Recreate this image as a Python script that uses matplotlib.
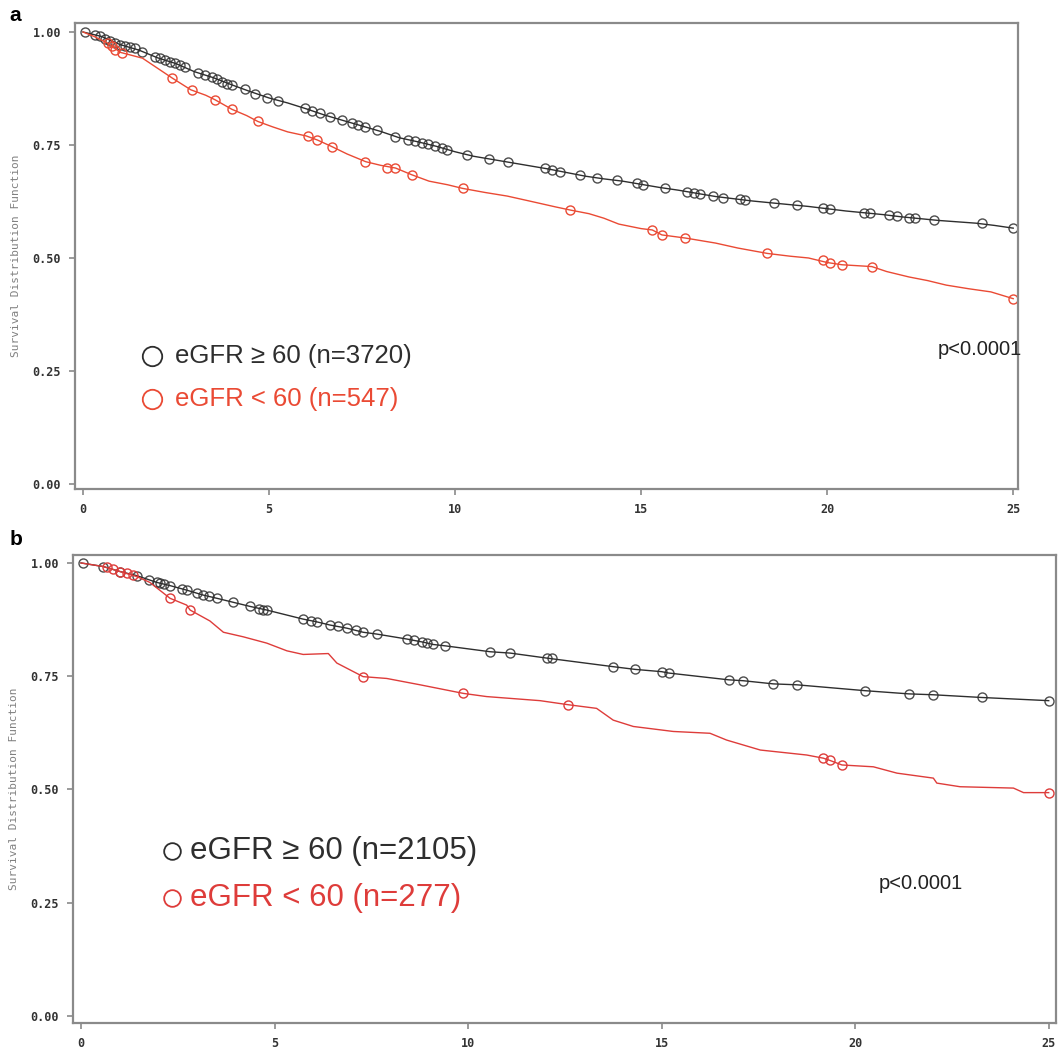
import matplotlib
matplotlib.use("Agg")
import matplotlib.pyplot as plt

# ---- panel a: eGFR >= 60 (n=3720) vs eGFR < 60 (n=547) ----
A_HI_T = [0, 0.5, 1.0, 1.5, 2.0, 2.5, 3.0, 3.5, 4.0, 4.5, 5.0, 5.5, 6.0, 6.5, 7.0, 7.5,
          8.0, 8.5, 9.0, 9.5, 10.0, 10.5, 11.0, 11.5, 12.0, 12.5, 13.0, 13.5, 14.0, 14.5,
          15.0, 15.5, 16.0, 16.5, 17.0, 17.5, 18.0, 18.5, 19.0, 19.5, 20.0, 20.5, 21.0,
          21.5, 22.0, 22.5, 23.0, 23.5, 24.0, 24.5, 25.0]
A_HI_S = [1.0, 0.99, 0.972, 0.96, 0.943, 0.93, 0.912, 0.899, 0.883, 0.868, 0.854, 0.843,
          0.83, 0.816, 0.804, 0.792, 0.78, 0.766, 0.757, 0.747, 0.735, 0.725, 0.718, 0.711,
          0.704, 0.697, 0.689, 0.681, 0.675, 0.67, 0.663, 0.656, 0.65, 0.643, 0.636, 0.631,
          0.626, 0.622, 0.618, 0.614, 0.609, 0.604, 0.6, 0.596, 0.591, 0.587, 0.583, 0.58,
          0.577, 0.572, 0.566]
A_HI_CT = [0.05, 0.32, 0.46, 0.59, 0.73, 0.86, 0.99, 1.13, 1.26, 1.40, 1.58, 1.94, 2.07,
           2.20, 2.34, 2.47, 2.61, 2.74, 3.10, 3.28, 3.46, 3.59, 3.73, 3.86, 4.0, 4.35,
           4.62, 4.94, 5.25, 5.97, 6.15, 6.37, 6.64, 6.95, 7.22, 7.40, 7.58, 7.90, 8.39,
           8.74, 8.92, 9.10, 9.28, 9.46, 9.64, 9.78, 10.31, 10.90, 11.43, 12.42, 12.60,
           12.82, 13.36, 13.81, 14.35, 14.88, 15.06, 15.65, 16.23, 16.41, 16.59, 16.94,
           17.21, 17.66, 17.80, 18.56, 19.19, 19.90, 20.08, 20.98, 21.16, 21.65, 21.87,
           22.19, 22.37, 22.86, 24.16, 25.0]
A_HI_CS = [1.0, 0.993, 0.99, 0.984, 0.979, 0.975, 0.972, 0.969, 0.966, 0.964, 0.956, 0.945,
           0.942, 0.938, 0.934, 0.931, 0.926, 0.922, 0.909, 0.904, 0.90, 0.895, 0.89,
           0.886, 0.883, 0.873, 0.863, 0.855, 0.848, 0.831, 0.826, 0.82, 0.813, 0.805,
           0.798, 0.794, 0.79, 0.783, 0.768, 0.762, 0.759, 0.755, 0.752, 0.748, 0.743,
           0.739, 0.728, 0.72, 0.713, 0.698, 0.695, 0.691, 0.684, 0.676, 0.673, 0.665,
           0.662, 0.654, 0.647, 0.643, 0.642, 0.637, 0.633, 0.63, 0.628, 0.621, 0.617,
           0.61, 0.608, 0.60, 0.599, 0.595, 0.593, 0.588, 0.588, 0.584, 0.577, 0.566]

A_LO_T = [0, 0.3, 0.67, 1.0, 1.6, 2.0, 2.4, 2.9, 3.3, 3.55, 4.0, 4.4, 4.7, 5.1, 5.5, 6.0,
          6.3, 6.7, 7.1, 7.6, 8.0, 8.4, 8.84, 9.3, 9.8, 10.2, 10.8, 11.4, 12.0, 12.7, 13.1,
          13.6, 14.0, 14.4, 15.0, 15.3, 15.56, 16.2, 17.0, 17.6, 18.4, 19.0, 19.5, 20.0,
          20.4, 21.2, 21.6, 22.2, 22.7, 23.2, 23.8, 24.4, 25.0]
A_LO_S = [1.0, 0.99, 0.975, 0.955, 0.942, 0.92, 0.898, 0.872, 0.86, 0.85, 0.829, 0.815,
          0.802, 0.79, 0.779, 0.77, 0.761, 0.746, 0.73, 0.713, 0.705, 0.699, 0.684, 0.67,
          0.662, 0.654, 0.645, 0.637, 0.626, 0.613, 0.606, 0.598, 0.588, 0.575, 0.565,
          0.562, 0.551, 0.544, 0.533, 0.522, 0.51, 0.504, 0.5, 0.49, 0.485, 0.481, 0.47,
          0.458, 0.45, 0.44, 0.432, 0.425, 0.41]
A_LO_CT = [0.68, 0.77, 0.86, 1.04, 2.38, 2.92, 3.55, 4.0, 4.71, 6.06, 6.28, 6.69, 7.58,
           8.16, 8.39, 8.84, 10.22, 13.09, 15.29, 15.56, 16.18, 18.38, 19.9, 20.08, 20.39,
           21.2, 25.0]
A_LO_CS = [0.975, 0.968, 0.96, 0.953, 0.898, 0.872, 0.85, 0.829, 0.802, 0.769, 0.761,
           0.746, 0.713, 0.698, 0.70, 0.684, 0.654, 0.606, 0.562, 0.551, 0.544, 0.51,
           0.496, 0.488, 0.485, 0.481, 0.41]

# ---- panel b: eGFR >= 60 (n=2105) vs eGFR < 60 (n=277) ----
B_HI_T = [0, 0.58, 1.01, 1.44, 1.96, 2.30, 2.73, 3.16, 3.51, 3.94, 4.37, 4.80, 5.74, 6.09,
          6.43, 6.87, 7.29, 7.64, 8.42, 8.85, 9.10, 9.41, 10.57, 11.09, 12.03, 13.75,
          14.32, 15.0, 15.18, 16.73, 17.11, 17.89, 18.49, 20.26, 21.38, 22.02, 23.27, 25.0]
B_HI_S = [1.0, 0.992, 0.981, 0.972, 0.957, 0.95, 0.94, 0.929, 0.922, 0.913, 0.904, 0.896,
          0.876, 0.87, 0.863, 0.856, 0.847, 0.843, 0.832, 0.825, 0.82, 0.817, 0.804, 0.801,
          0.79, 0.771, 0.765, 0.76, 0.757, 0.742, 0.74, 0.733, 0.731, 0.718, 0.711, 0.709,
          0.703, 0.696]
B_HI_CT = [0.06, 0.58, 1.01, 1.44, 1.75, 1.96, 2.05, 2.15, 2.30, 2.60, 2.73, 3.0, 3.16,
           3.30, 3.51, 3.94, 4.37, 4.60, 4.70, 4.80, 5.74, 5.95, 6.09, 6.43, 6.65, 6.87,
           7.10, 7.29, 7.64, 8.42, 8.60, 8.80, 8.95, 9.10, 9.41, 10.57, 11.09, 12.03,
           12.16, 13.75, 14.32, 15.0, 15.18, 16.73, 17.11, 17.89, 18.49, 20.26, 21.38,
           22.02, 23.27, 25.0]
B_HI_CS = [1.0, 0.992, 0.981, 0.972, 0.962, 0.957, 0.955, 0.953, 0.95, 0.943, 0.94, 0.934,
           0.929, 0.926, 0.922, 0.913, 0.904, 0.899, 0.897, 0.896, 0.876, 0.872, 0.87,
           0.863, 0.86, 0.856, 0.851, 0.847, 0.843, 0.832, 0.829, 0.826, 0.823, 0.82,
           0.817, 0.804, 0.801, 0.79, 0.79, 0.771, 0.765, 0.76, 0.757, 0.742, 0.74, 0.733,
           0.731, 0.718, 0.711, 0.709, 0.703, 0.696]

B_LO_T = [0, 0.58, 1.01, 1.44, 1.78, 2.30, 2.73, 2.82, 3.33, 3.68, 4.19, 4.80, 5.32, 5.74,
          6.39, 6.61, 7.04, 7.29, 7.90, 8.76, 9.88, 10.48, 11.86, 12.59, 13.32, 13.75,
          14.27, 15.30, 16.25, 16.68, 17.55, 18.75, 19.18, 19.35, 19.66, 20.47, 21.08,
          22.02, 22.11, 22.71, 24.09, 24.35, 25.0]
B_LO_S = [1.0, 0.992, 0.981, 0.97, 0.957, 0.922, 0.907, 0.896, 0.872, 0.847, 0.837, 0.823,
          0.806, 0.798, 0.80, 0.779, 0.76, 0.749, 0.745, 0.731, 0.712, 0.705, 0.696, 0.687,
          0.679, 0.653, 0.639, 0.628, 0.624, 0.609, 0.587, 0.576, 0.569, 0.564, 0.554,
          0.55, 0.536, 0.525, 0.514, 0.506, 0.503, 0.493, 0.493]
B_LO_CT = [0.67, 0.84, 1.01, 1.18, 1.35, 2.30, 2.82, 7.29, 9.88, 12.59, 19.18, 19.35,
           19.66, 25.0]
B_LO_CS = [0.99, 0.987, 0.979, 0.977, 0.974, 0.922, 0.896, 0.749, 0.712, 0.687, 0.569,
           0.564, 0.554, 0.493]

Y_TICKS = [0.0, 0.25, 0.5, 0.75, 1.0]
X_TICKS = [0, 5, 10, 15, 20, 25]

BLACK = "#2e2e2e"
RED_A = "#ea4a34"
RED_B = "#de3c3a"
SPINE = "#8a8a8a"


def draw_panel(ax, hi, lo, red, labels, xlim, ylim, legend_xy, legend_gap, legend_fs,
               legend_ms, text_dx, pval_xy):
    hi_t, hi_s, hi_ct, hi_cs = hi
    lo_t, lo_s, lo_ct, lo_cs = lo

    ax.plot(hi_t, hi_s, color=BLACK, lw=1.0)
    ax.plot(hi_ct, hi_cs, "o", mfc="none", mec=BLACK, mew=1.0, ms=6.5, alpha=0.85)
    ax.plot(lo_t, lo_s, color=red, lw=1.0)
    ax.plot(lo_ct, lo_cs, "o", mfc="none", mec=red, mew=1.0, ms=6.5)

    ax.set_xlim(*xlim)
    ax.set_ylim(*ylim)
    ax.set_xticks(X_TICKS)
    ax.set_yticks(Y_TICKS)
    ax.set_xticklabels([str(x) for x in X_TICKS])
    ax.set_yticklabels([f"{y:.2f}" for y in Y_TICKS])
    for lab in ax.get_xticklabels() + ax.get_yticklabels():
        lab.set_family("DejaVu Sans Mono")
        lab.set_fontweight("bold")
        lab.set_fontsize(8.5)
        lab.set_color("#333333")
    ax.tick_params(length=4, width=1.2, color=SPINE, pad=6)
    for sp in ax.spines.values():
        sp.set_color(SPINE)
        sp.set_linewidth(1.6)
    ax.set_ylabel("Survival Distribution Function", family="DejaVu Sans Mono",
                  fontsize=8, color="#808080", labelpad=8)

    # legend drawn by hand, as in the original figure
    lx, ly = legend_xy
    colors = [BLACK, red]
    for i, (lab, c) in enumerate(zip(labels, colors)):
        y = ly - i * legend_gap
        ax.plot([lx], [y], "o", mfc="none", mec=c, mew=1.3, ms=legend_ms,
                transform=ax.transAxes, clip_on=False)
        ax.text(lx + text_dx, y, lab, transform=ax.transAxes, color=c,
                fontsize=legend_fs, family="Liberation Sans", va="center", ha="left")

    ax.text(pval_xy[0], pval_xy[1], "p<0.0001", transform=ax.transAxes,
            fontsize=14.5, family="Liberation Sans", color="#222222", ha="center", va="center")


fig = plt.figure(figsize=(10.62, 10.52), dpi=100)
ax_a = fig.add_axes([0.0706, 0.5352, 0.888, 0.4430])
ax_b = fig.add_axes([0.0687, 0.0276, 0.9257, 0.4449])

draw_panel(ax_a, (A_HI_T, A_HI_S, A_HI_CT, A_HI_CS), (A_LO_T, A_LO_S, A_LO_CT, A_LO_CS),
           RED_A, ["eGFR \u2265 60 (n=3720)", "eGFR < 60 (n=547)"],
           (-0.215, 25.13), (-0.011, 1.02), (0.082, 0.285), 0.092, 18.5, 14, 0.024,
           (0.96, 0.300))
draw_panel(ax_b, (B_HI_T, B_HI_S, B_HI_CT, B_HI_CS), (B_LO_T, B_LO_S, B_LO_CT, B_LO_CS),
           RED_B, ["eGFR \u2265 60 (n=2105)", "eGFR < 60 (n=277)"],
           (-0.207, 25.19), (-0.0155, 1.0177), (0.101, 0.368), 0.100, 22.5, 12, 0.018,
           (0.862, 0.298))

fig.text(0.009, 0.985, "a", fontsize=15, fontweight="bold", family="Liberation Sans",
         va="center", ha="left")
fig.text(0.009, 0.487, "b", fontsize=15, fontweight="bold", family="Liberation Sans",
         va="center", ha="left")

fig.savefig("out.png", dpi=100)
